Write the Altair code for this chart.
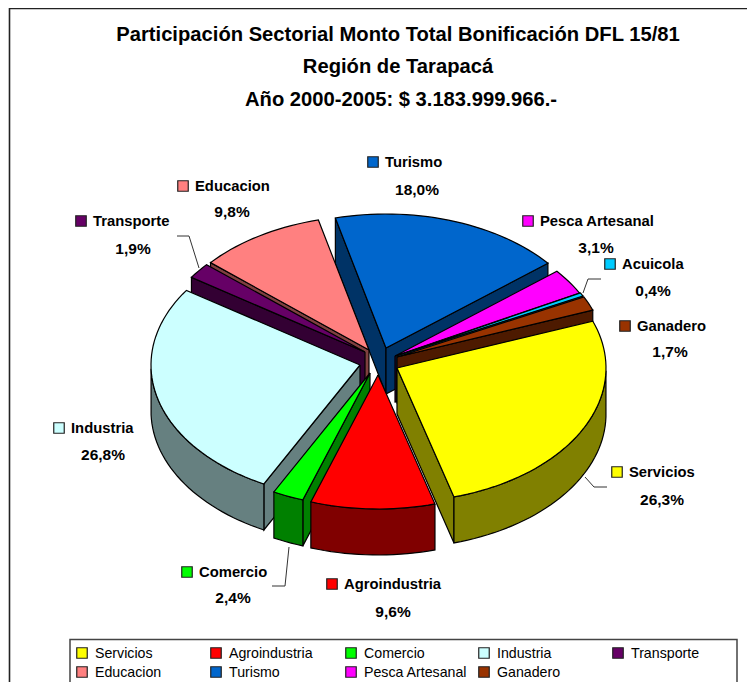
import math
import altair as alt
import pandas as pd

categories = ["Servicios", "Agroindustria", "Comercio", "Industria", "Transporte",
              "Educacion", "Turismo", "Pesca Artesanal", "Acuicola", "Ganadero"]
shares = [26.3, 9.6, 2.4, 26.8, 1.9, 9.8, 18.0, 3.1, 0.4, 1.7]
pct_labels = ["26,3%", "9,6%", "2,4%", "26,8%", "1,9%", "9,8%", "18,0%", "3,1%", "0,4%", "1,7%"]
top_colors = ["#FFFF00", "#FF0000", "#00FF00", "#CCFFFF", "#660066",
              "#FF8080", "#0066CC", "#FF00FF", "#00CCFF", "#993300"]
wall_colors = ["#808000", "#800000", "#008000", "#668080", "#330033",
               "#804040", "#003366", "#800080", "#006680", "#4D1A00"]
title_lines = ["Participación Sectorial Monto Total Bonificación DFL 15/81",
               "Región de Tarapacá",
               "Año 2000-2005: $ 3.183.999.966.-"]

# Look of the tilted, exploded pie
START = -20.5
RX, RY, DEPTH = 209, 134, 46
tips = [(397, 368), (378, 375), (370, 373), (360, 365), (365, 352),
        (369, 350), (386, 348), (395, 356), (396, 356), (397, 357)]
paint_order = [6, 7, 8, 9, 5, 4, 3, 2, 0, 1]

# Label placement: marker centre, name y, percentage centre
markers = [(617, 472), (332, 584), (187, 572), (59, 428), (81, 221),
           (183, 186), (373, 162), (528, 221), (610, 264), (625, 326)]
pct_pos = [(662, 500), (393, 612), (233, 598), (103, 455), (133, 249),
           (232, 212), (417, 190), (596, 248), (653, 291), (670, 352)]
leaders = [[(585, 477), (594, 487), (607, 487)],
           [(289, 547), (285, 586), (272, 586)],
           [(199, 268), (189, 236), (177, 236)],
           [(583, 293), (588, 279), (601, 279)]]
legend_x = [82, 216, 351, 484, 618]
legend_y = [653, 672]

rows = []
pid = 0


def add_poly(points, fill):
    global pid
    pid += 1
    for k, (px, py) in enumerate(points + [points[0]]):
        rows.append({"pid": pid, "k": k, "x": px, "y": py, "fill": fill})


bounds = []
acc = 0.0
total = sum(shares)
for s in shares:
    a0 = START + acc / total * 360
    acc += s
    bounds.append((a0, START + acc / total * 360))


def rim(tip, a):
    r = math.radians(a)
    return (tip[0] + RX * math.cos(r), tip[1] + RY * math.sin(r))


def shift(p):
    return (p[0], p[1] + DEPTH)


for i in paint_order:
    a0, a1 = bounds[i]
    tip = tips[i]
    n = max(3, int((a1 - a0) / 2) + 2)
    angles = [a0 + (a1 - a0) * j / (n - 1) for j in range(n)]
    if math.cos(math.radians(a0)) < 0:
        p = rim(tip, a0)
        add_poly([tip, p, shift(p), shift(tip)], wall_colors[i])
    if math.cos(math.radians(a1)) > 0:
        p = rim(tip, a1)
        add_poly([tip, p, shift(p), shift(tip)], wall_colors[i])
    front = [a for a in angles if math.sin(math.radians(a)) > 0]
    if len(front) >= 2:
        arc = [rim(tip, a) for a in front]
        add_poly(arc + [shift(q) for q in reversed(arc)], wall_colors[i])
    add_poly([tip] + [rim(tip, a) for a in angles], top_colors[i])

poly_df = pd.DataFrame(rows)

X_DOMAIN = [8, 747]
Y_DOMAIN = [682, 8]
FONT = "Liberation Sans"


def xq(field):
    return alt.X(field, scale=alt.Scale(domain=X_DOMAIN), axis=None)


def yq(field):
    return alt.Y(field, scale=alt.Scale(domain=Y_DOMAIN), axis=None)


X, Y = xq("x:Q"), yq("y:Q")

pie = alt.Chart(poly_df).mark_line(stroke="black", strokeWidth=1.2, interpolate="linear").encode(
    x=X, y=Y,
    order="k:Q",
    detail="pid:N",
    fill=alt.Fill("fill:N", scale=None),
)

frame = alt.Chart(pd.DataFrame({"x": [9.5, 9.5, 760], "y": [690, 8.5, 8.5], "k": [0, 1, 2]})).mark_line(
    stroke="#222222", strokeWidth=1.6).encode(x=X, y=Y, order="k:Q")

title = alt.Chart(pd.DataFrame({"t": title_lines, "x": [398, 398, 401], "y": [35, 67, 100]})).mark_text(
    font=FONT, fontWeight="bold", fontSize=20.2, color="black", baseline="middle", align="center"
).encode(x=X, y=Y, text="t:N")

lab = pd.DataFrame({
    "name": categories, "pct": pct_labels,
    "mx": [m[0] for m in markers], "my": [m[1] for m in markers],
    "tx": [m[0] + 12 for m in markers], "ty": [m[1] + 1 for m in markers],
    "px": [p[0] for p in pct_pos], "py": [p[1] for p in pct_pos],
    "fill": top_colors,
})
label_marks = alt.Chart(lab).mark_point(shape="square", size=110, filled=True, stroke="#222222",
                                        strokeWidth=1.2, opacity=1).encode(
    x=xq("mx:Q"), y=yq("my:Q"), fill=alt.Fill("fill:N", scale=None))
label_names = alt.Chart(lab).mark_text(font=FONT, fontWeight="bold", fontSize=14.8, align="left",
                                       baseline="middle", color="black").encode(
    x=xq("tx:Q"), y=yq("ty:Q"), text="name:N")
label_pcts = alt.Chart(lab).mark_text(font=FONT, fontWeight="bold", fontSize=15.5, align="center",
                                      baseline="middle", color="black").encode(
    x=xq("px:Q"), y=yq("py:Q"), text="pct:N")

lead_rows = [{"g": g, "k": k, "x": p[0], "y": p[1]} for g, line in enumerate(leaders) for k, p in enumerate(line)]
leader_lines = alt.Chart(pd.DataFrame(lead_rows)).mark_line(stroke="#333333", strokeWidth=1).encode(
    x=X, y=Y, detail="g:N", order="k:Q")

legend_box = alt.Chart(pd.DataFrame({"x": [70], "x2": [737], "y": [639.5], "y2": [695]})).mark_rect(
    fill="white", stroke="#444444", strokeWidth=1.5).encode(x=X, x2="x2:Q", y=Y, y2="y2:Q")

leg = pd.DataFrame({
    "name": categories,
    "lx": [legend_x[i % 5] for i in range(len(categories))],
    "ly": [legend_y[i // 5] for i in range(len(categories))],
    "fill": top_colors,
})
leg = leg[leg["name"] != "Acuicola"].reset_index(drop=True)
leg.loc[leg["name"] == "Ganadero", "lx"] = legend_x[3]
leg["tx"] = leg["lx"] + 13
leg["ty"] = leg["ly"] + 1
legend_marks = alt.Chart(leg).mark_point(shape="square", size=110, filled=True, stroke="#222222",
                                         strokeWidth=1.2, opacity=1).encode(
    x=xq("lx:Q"), y=yq("ly:Q"), fill=alt.Fill("fill:N", scale=None))
legend_text = alt.Chart(leg).mark_text(font=FONT, fontSize=14.2, align="left", baseline="middle",
                                       color="black").encode(
    x=xq("tx:Q"), y=yq("ty:Q"), text="name:N")

chart = alt.layer(
    frame, pie, leader_lines, title, label_marks, label_names, label_pcts,
    legend_box, legend_marks, legend_text
).properties(width=739, height=674, padding=0,
             autosize=alt.AutoSizeParams(type="none")
).configure_view(stroke=None)

chart.save("out.html", embed_options={"renderer": "svg", "actions": False})
